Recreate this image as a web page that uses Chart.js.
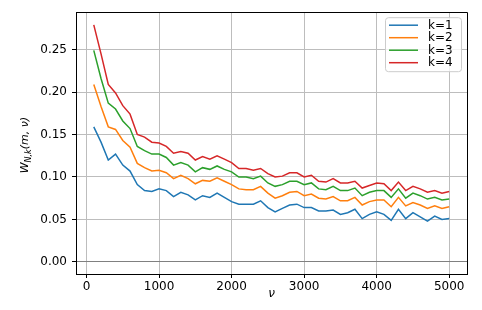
<!DOCTYPE html>
<html>
<head>
<meta charset="utf-8">
<script src="https://cdn.jsdelivr.net/npm/chart.js@4.4.1/dist/chart.umd.min.js"></script>
<style>
  body { margin: 0; background: #fff; }
  #wrap { width: 482px; height: 310px; }
</style>
</head>
<body>
<div id="wrap"><canvas id="chart1" width="482" height="310"></canvas></div>
<script>
const nu = [100, 200, 300, 400, 500, 600, 700, 800, 900, 1000,
            1100, 1200, 1300, 1400, 1500, 1600, 1700, 1800, 1900, 2000,
            2100, 2200, 2300, 2400, 2500, 2600, 2700, 2800, 2900, 3000,
            3100, 3200, 3300, 3400, 3500, 3600, 3700, 3800, 3900, 4000,
            4100, 4200, 4300, 4400, 4500, 4600, 4700, 4800, 4900, 5000];

const k1 = [0.159, 0.141, 0.120, 0.127, 0.114, 0.107, 0.091, 0.084, 0.083, 0.086,
            0.084, 0.077, 0.082, 0.079, 0.073, 0.078, 0.076, 0.081, 0.076, 0.071,
            0.068, 0.068, 0.068, 0.072, 0.064, 0.059, 0.063, 0.067, 0.068, 0.064,
            0.064, 0.060, 0.060, 0.061, 0.056, 0.058, 0.062, 0.051, 0.056, 0.059,
            0.056, 0.049, 0.062, 0.051, 0.058, 0.053, 0.048, 0.054, 0.050, 0.051];

const k2 = [0.209, 0.183, 0.159, 0.156, 0.143, 0.135, 0.116, 0.111, 0.107, 0.108,
            0.105, 0.098, 0.102, 0.098, 0.092, 0.096, 0.095, 0.099, 0.095, 0.091,
            0.086, 0.085, 0.085, 0.089, 0.081, 0.075, 0.078, 0.082, 0.083, 0.078,
            0.080, 0.075, 0.074, 0.077, 0.072, 0.072, 0.076, 0.067, 0.071, 0.073,
            0.073, 0.065, 0.076, 0.066, 0.070, 0.067, 0.063, 0.066, 0.063, 0.065];

const k3 = [0.249, 0.216, 0.187, 0.180, 0.166, 0.157, 0.136, 0.131, 0.127, 0.127,
            0.123, 0.114, 0.117, 0.114, 0.106, 0.111, 0.109, 0.113, 0.109, 0.106,
            0.100, 0.100, 0.098, 0.101, 0.093, 0.089, 0.091, 0.095, 0.095, 0.091,
            0.093, 0.086, 0.085, 0.089, 0.084, 0.084, 0.087, 0.078, 0.082, 0.084,
            0.084, 0.076, 0.086, 0.075, 0.081, 0.078, 0.074, 0.076, 0.073, 0.074];

const k4 = [0.279, 0.245, 0.209, 0.199, 0.184, 0.174, 0.150, 0.147, 0.141, 0.140,
            0.136, 0.128, 0.130, 0.128, 0.120, 0.124, 0.121, 0.125, 0.121, 0.117,
            0.110, 0.110, 0.108, 0.110, 0.104, 0.100, 0.101, 0.105, 0.105, 0.100,
            0.102, 0.095, 0.094, 0.098, 0.093, 0.093, 0.095, 0.087, 0.090, 0.093,
            0.092, 0.084, 0.094, 0.084, 0.089, 0.086, 0.082, 0.084, 0.081, 0.083];

const seriesLabels = ['k=1', 'k=2', 'k=3', 'k=4'];
const xTicks = [0, 1000, 2000, 3000, 4000, 5000];
const yTicks = [0.00, 0.05, 0.10, 0.15, 0.20, 0.25];

const couleurs = ['#1f77b4', '#ff7f0e', '#2ca02c', '#d62728'];
const police = 'DejaVu Sans';

function points(ys) {
  return nu.map((v, i) => ({ x: v, y: ys[i] }));
}

// cadre haut/droite, titres d'axes et légende façon matplotlib
const decor = {
  id: 'decor',
  afterDraw(chart) {
    const ctx = chart.ctx;
    const a = chart.chartArea;
    ctx.save();

    ctx.strokeStyle = '#000';
    ctx.lineWidth = 1;
    ctx.beginPath();
    ctx.moveTo(Math.round(a.left), Math.round(a.top) + 0.5);
    ctx.lineTo(Math.round(a.right) + 0.5, Math.round(a.top) + 0.5);
    ctx.lineTo(Math.round(a.right) + 0.5, Math.round(a.bottom));
    ctx.stroke();

    // titre x
    ctx.fillStyle = '#000';
    ctx.textAlign = 'center';
    ctx.textBaseline = 'middle';
    ctx.font = 'italic 12px ' + police;
    ctx.fillText('ν', (a.left + a.right) / 2, 294);

    // titre y : W_{N,k}(m, ν)
    ctx.translate(24, (a.top + a.bottom) / 2 + 2);
    ctx.rotate(-Math.PI / 2);
    ctx.textAlign = 'left';
    ctx.textBaseline = 'alphabetic';
    const big = 'italic 11px ' + police;
    const small = 'italic 8px ' + police;
    ctx.font = big;  const w1 = ctx.measureText('W').width;
    ctx.font = small; const w2 = ctx.measureText('N,k').width;
    ctx.font = big;  const w3 = ctx.measureText('(m, ν)').width;
    let x0 = -(w1 + w2 + w3) / 2;
    ctx.font = big;   ctx.fillText('W', x0, 4);
    ctx.font = small; ctx.fillText('N,k', x0 + w1, 7);
    ctx.font = big;   ctx.fillText('(m, ν)', x0 + w1 + w2, 4);
    ctx.setTransform(1, 0, 0, 1, 0, 0);

    // légende
    const ds = chart.data.datasets;
    const bw = 76, bh = 54;
    const bx = a.right - 6 - bw, by = a.top + 5;
    ctx.beginPath();
    ctx.roundRect(bx + 0.5, by + 0.5, bw, bh, 3);
    ctx.fillStyle = 'rgba(255,255,255,0.8)';
    ctx.fill();
    ctx.strokeStyle = '#cccccc';
    ctx.stroke();
    ctx.font = '12px ' + police;
    ctx.textBaseline = 'middle';
    ds.forEach((d, i) => {
      const yy = by + 8 + i * 12.5;
      ctx.strokeStyle = d.borderColor;
      ctx.lineWidth = 1.5;
      ctx.beginPath();
      ctx.moveTo(bx + 4, yy);
      ctx.lineTo(bx + 33, yy);
      ctx.stroke();
      ctx.fillStyle = '#000';
      ctx.fillText(d.label, bx + 43, yy + 0.5);
    });
    ctx.restore();
  }
};

const configurations = {
  type: 'line',
  data: {
    datasets: [k1, k2, k3, k4].map((s, i) => ({
      label: seriesLabels[i],
      data: points(s),
      borderColor: couleurs[i],
      backgroundColor: couleurs[i],
      borderWidth: 1.5,
      pointRadius: 0,
      tension: 0,
      fill: false
    }))
  },
  options: {
    responsive: false,
    animation: false,
    devicePixelRatio: 1,
    layout: { padding: { top: 8, right: 15, left: 0, bottom: 0 } },
    scales: {
      x: {
        type: 'linear',
        min: -145,
        max: 5245,
        afterBuildTicks: s => { s.ticks = xTicks.map(v => ({ value: v })); },
        afterFit: s => { s.height = 36; },
        ticks: {
          callback: v => String(v),
          color: '#000',
          font: { family: police, size: 12 },
          padding: 2,
          maxRotation: 0,
          autoSkip: false
        },
        grid: { color: '#bdbdbd', lineWidth: 1, tickLength: 4, tickColor: '#000' },
        border: { color: '#000', width: 1 }
      },
      y: {
        min: -0.0142,
        max: 0.294,
        afterBuildTicks: s => { s.ticks = yTicks.map(v => ({ value: v })); },
        afterFit: s => { s.width = 76; },
        ticks: {
          callback: v => Number(v).toFixed(2),
          color: '#000',
          font: { family: police, size: 12 },
          padding: 5,
          autoSkip: false
        },
        grid: {
          color: c => (c.tick && c.tick.value === 0 ? '#808080' : '#bdbdbd'),
          lineWidth: 1,
          tickLength: 4,
          tickColor: '#000'
        },
        border: { color: '#000', width: 1 }
      }
    },
    plugins: {
      legend: { display: false },
      tooltip: { enabled: false },
      title: { display: false }
    }
  },
  plugins: [decor]
};

const contexte = document.querySelector('#chart1').getContext('2d');
let graphique = new Chart(contexte, configurations);
</script>
</body>
</html>
